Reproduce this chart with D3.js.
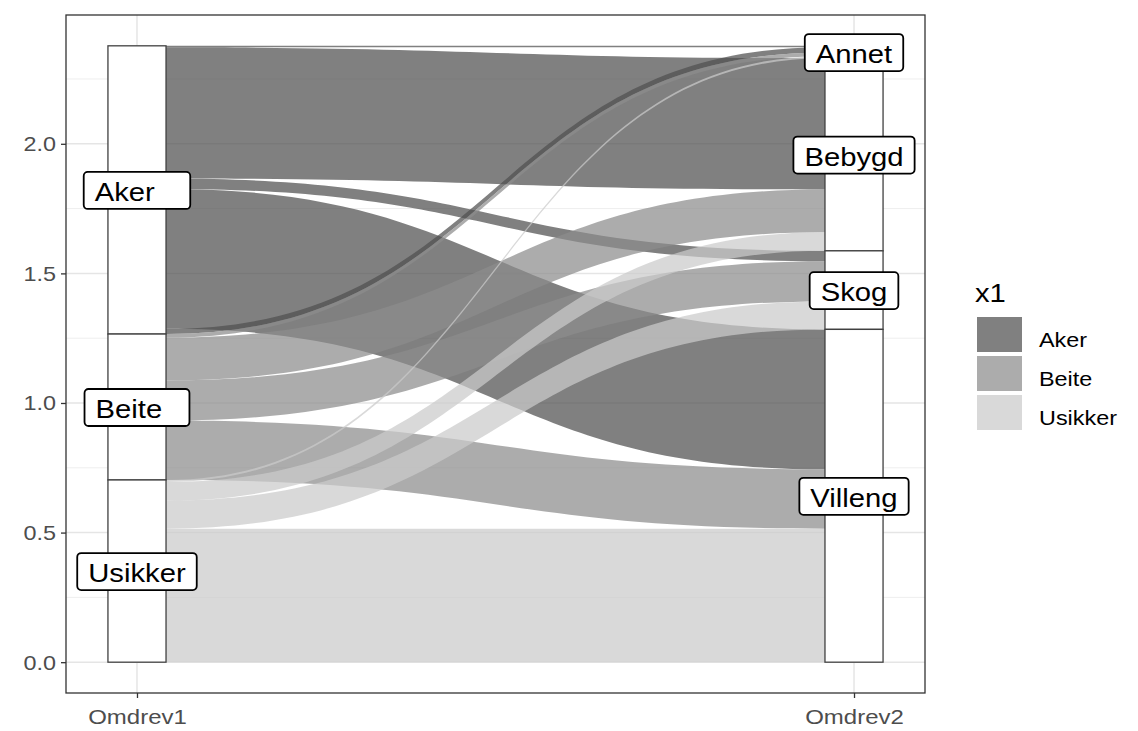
<!DOCTYPE html>
<html><head><meta charset="utf-8">
<script src="https://cdn.jsdelivr.net/npm/d3@7"></script>
<style>
body{margin:0;background:#fff}
text{font-family:"Liberation Sans",Arial,sans-serif;white-space:pre}
</style>
</head><body>
<svg id="c" width="1138" height="731"></svg>
<script>
// ---- data ----
const axisNames = ["Omdrev1", "Omdrev2"];
const strata1 = ["Aker", "Beite", "Usikker"];            // top -> bottom
const strata2 = ["Annet", "Bebygd", "Skog", "Villeng"];  // top -> bottom
const stratumLabels1 = ["Aker   ", "Beite  ", "Usikker"];
const stratumLabels2 = ["Annet", "Bebygd", "Skog", "Villeng"];
const fillLevels = ["Aker", "Beite", "Usikker"];
const flowFrom  = ["Aker","Aker","Aker","Aker","Aker","Beite","Beite","Beite","Beite","Usikker","Usikker","Usikker","Usikker"];
const flowTo    = ["Annet","Bebygd","Skog","Villeng","Annet","Annet","Bebygd","Skog","Villeng","Annet","Bebygd","Skog","Villeng"];
const flowValue = [0.006,0.506,0.040,0.540,0.020,0.014,0.165,0.155,0.229,0.008,0.072,0.108,0.515];
const rightOrder = [0,4,5,9,1,6,10,2,7,11,3,8,12];       // stacking order at Omdrev2, top -> bottom
const yTicks = [0, 0.5, 1, 1.5, 2];
const yMinor = [0.25, 0.75, 1.25, 1.75, 2.25];
const legendTitle = "x1";

// ---- style ----
const SX = 1.17;
const fillColor = {Aker: "#4f4f4f", Beite: "#8c8c8c", Usikker: "#cacaca"};
const flowOpacity = 0.72;
const panel = {l: 66, r: 925, t: 15, b: 693};

const svg = d3.select("#c");
const total = d3.sum(flowValue);
const x = d3.scalePoint().domain(axisNames).range([panel.l, panel.r]).padding(0.099);
const y = d3.scaleLinear().domain([-0.05 * total, 1.05 * total]).range([panel.b, panel.t]);
const hw = x.step() * 0.081 / 2;

// stacking
const n = flowValue.length;
const lT = [], lB = [], rT = [], rB = [];
let cum = total;
for (let i = 0; i < n; i++) { lT[i] = cum; cum -= flowValue[i]; lB[i] = cum; }
cum = total;
for (const i of rightOrder) { rT[i] = cum; cum -= flowValue[i]; rB[i] = cum; }
const idx = d3.range(n);
const strataL = strata1.map((s, k) => {
  const f = idx.filter(i => flowFrom[i] === s);
  return {name: s, label: stratumLabels1[k], top: d3.max(f, i => lT[i]), bot: d3.min(f, i => lB[i])};
});
const strataR = strata2.map((s, k) => {
  const f = idx.filter(i => flowTo[i] === s);
  return {name: s, label: stratumLabels2[k], top: d3.max(f, i => rT[i]), bot: d3.min(f, i => rB[i])};
});

// ---- grid ----
const grid = svg.append("g");
grid.selectAll(".mi").data(yMinor).join("line")
  .attr("x1", panel.l).attr("x2", panel.r)
  .attr("y1", d => y(d)).attr("y2", d => y(d))
  .attr("stroke", "#eeeeee").attr("stroke-width", 1);
grid.selectAll(".ma").data(yTicks).join("line")
  .attr("x1", panel.l).attr("x2", panel.r)
  .attr("y1", d => y(d)).attr("y2", d => y(d))
  .attr("stroke", "#e5e5e5").attr("stroke-width", 1.5);
grid.selectAll(".mv").data(axisNames).join("line")
  .attr("y1", panel.t).attr("y2", panel.b)
  .attr("x1", d => x(d)).attr("x2", d => x(d))
  .attr("stroke", "#e5e5e5").attr("stroke-width", 1.5);

// ---- flows ----
const xL = x(axisNames[0]) + hw, xR = x(axisNames[1]) - hw, xm = (xL + xR) / 2;
function flowPath(i) {
  const a = y(lT[i]), b = y(lB[i]), c = y(rT[i]), d = y(rB[i]);
  return `M${xL},${a}C${xm},${a} ${xm},${c} ${xR},${c}L${xR},${d}C${xm},${d} ${xm},${b} ${xL},${b}Z`;
}
svg.append("g").selectAll("path").data(idx).join("path")
  .attr("d", flowPath)
  .attr("fill", i => fillColor[flowFrom[i]])
  .attr("fill-opacity", flowOpacity);

// ---- strata ----
function drawStrata(list, ax) {
  svg.append("g").selectAll("rect").data(list).join("rect")
    .attr("x", x(ax) - hw).attr("width", 2 * hw)
    .attr("y", d => y(d.top)).attr("height", d => y(d.bot) - y(d.top))
    .attr("fill", "#fff").attr("stroke", "#404040").attr("stroke-width", 1.3);
}
drawStrata(strataL, axisNames[0]);
drawStrata(strataR, axisNames[1]);

// ---- labels ----
function drawLabels(list, ax) {
  const g = svg.append("g");
  list.forEach(d => {
    const cx = x(ax), cy = y((d.top + d.bot) / 2);
    const lg = g.append("g");
    const rect = lg.append("rect");
    const t = lg.append("text").attr("font-size", 25).attr("fill", "#000").text(d.label);
    const w = t.node().getComputedTextLength() * SX;
    const pad = 11;
    const bw = w + 2 * pad;
    rect.attr("x", cx - bw / 2).attr("y", cy - 18).attr("width", bw).attr("height", 37)
      .attr("rx", 4).attr("fill", "#fff").attr("stroke", "#000").attr("stroke-width", 1.8);
    t.attr("transform", `translate(${cx - bw / 2 + pad},${cy + 11}) scale(${SX},1)`);
  });
}
drawLabels(strataL, axisNames[0]);
drawLabels(strataR, axisNames[1]);

// ---- panel border ----
svg.append("rect").attr("x", panel.l).attr("y", panel.t)
  .attr("width", panel.r - panel.l).attr("height", panel.b - panel.t)
  .attr("fill", "none").attr("stroke", "#333").attr("stroke-width", 1.3);

// ---- axes ----
const ya = svg.append("g").attr("transform", `translate(${panel.l},0)`)
  .call(d3.axisLeft(y).tickValues(yTicks).tickFormat(d3.format(".1f")).tickSize(5).tickPadding(0));
ya.select(".domain").remove();
ya.selectAll("line").attr("stroke", "#333").attr("stroke-width", 1.3);
ya.selectAll("text").attr("x", 0).attr("dy", null)
  .attr("transform", `translate(-10,7) scale(${SX},1)`)
  .attr("font-size", 20).attr("fill", "#4d4d4d").attr("font-family", "Liberation Sans, Arial, sans-serif");

const xa = svg.append("g").attr("transform", `translate(0,${panel.b})`)
  .call(d3.axisBottom(x).tickSize(5).tickPadding(0));
xa.select(".domain").remove();
xa.selectAll("line").attr("stroke", "#333").attr("stroke-width", 1.3);
xa.selectAll("text").attr("y", 0).attr("dy", null)
  .attr("transform", `translate(0,31) scale(${SX},1)`)
  .attr("font-size", 20.5).attr("fill", "#4d4d4d").attr("font-family", "Liberation Sans, Arial, sans-serif");

// ---- legend ----
const lgX = 977, lgY = 317, keyW = 45, keyH = 35, keyStep = 39;
const leg = svg.append("g");
leg.append("text").attr("transform", `translate(${lgX - 2},302) scale(${SX},1)`)
  .attr("font-size", 25).attr("fill", "#000").text(legendTitle);
fillLevels.forEach((lv, k) => {
  leg.append("rect").attr("x", lgX).attr("y", lgY + k * keyStep).attr("width", keyW).attr("height", keyH)
    .attr("fill", fillColor[lv]).attr("fill-opacity", flowOpacity);
  leg.append("text").attr("transform", `translate(1039,${lgY + k * keyStep + keyH / 2 + 12}) scale(${SX},1)`)
    .attr("font-size", 20).attr("fill", "#000").text(lv);
});
</script>
</body></html>
